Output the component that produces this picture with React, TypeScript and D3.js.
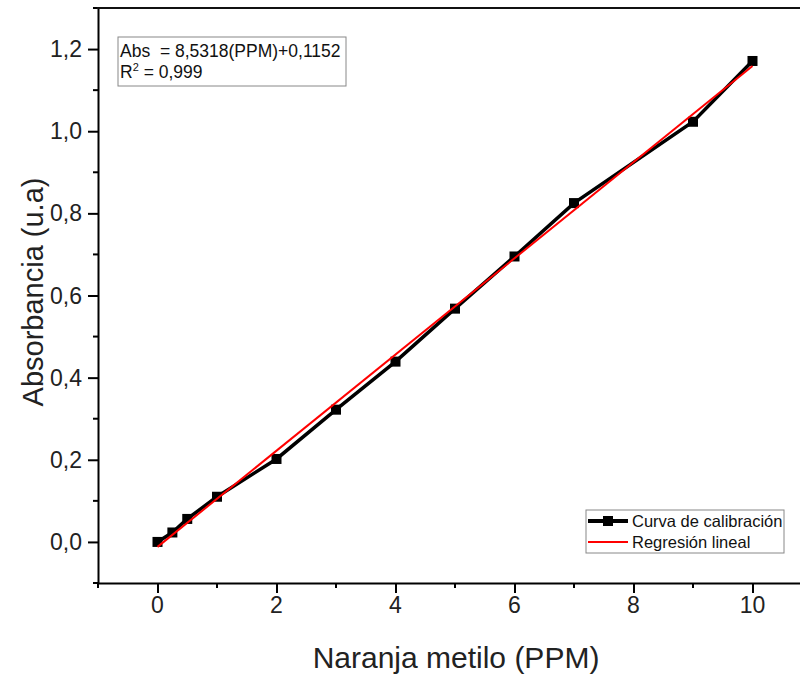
import * as d3 from "d3";
import { useEffect, useRef } from "react";

// calibration data
const ppm = [0, 0.25, 0.5, 1, 2, 3, 4, 5, 6, 7, 9, 10];
const absorb = [0, 0.023, 0.056, 0.11, 0.202, 0.322, 0.439, 0.568, 0.695, 0.825, 1.023, 1.171];
// linear fit endpoints
const fitX = [0, 10];
const fitY = [-0.012, 1.159];

const xTicks = [0, 2, 4, 6, 8, 10];
const xMinor = [-1, 1, 3, 5, 7, 9, 11];
const yTicks = [0, 0.2, 0.4, 0.6, 0.8, 1.0, 1.2];
const yMinor = [-0.1, 0.1, 0.3, 0.5, 0.7, 0.9, 1.1, 1.3];

const FONT = "Arial, 'Liberation Sans', sans-serif";
const fmt = (v: number) => v.toFixed(1).replace(".", ",");

export default function App() {
  const ref = useRef<SVGSVGElement>(null);

  useEffect(() => {
    const svg = d3.select(ref.current);
    svg.selectAll("*").remove();

    const x = d3.scaleLinear().domain([-1, 11]).range([98, 812]);
    const y = d3.scaleLinear().domain([-0.1, 1.3]).range([583, 8]);

    // y axis (labels drawn separately)
    const gy = svg.append("g").attr("transform", "translate(98,0)");
    gy.call(d3.axisLeft(y).tickValues(yTicks).tickSize(10).tickSizeOuter(0).tickFormat(() => ""));
    gy.append("g")
      .selectAll("line")
      .data(yMinor)
      .join("line")
      .attr("x1", -5)
      .attr("x2", 0)
      .attr("y1", (d) => y(d))
      .attr("y2", (d) => y(d))
      .attr("stroke", "#000")
      .attr("stroke-width", 2);
    svg.append("g")
      .selectAll("text")
      .data(yTicks)
      .join("text")
      .attr("x", 82)
      .attr("y", (d) => y(d) + 8)
      .attr("text-anchor", "end")
      .style("font-family", FONT)
      .style("font-size", "23px")
      .attr("fill", "#222")
      .text((d) => fmt(d));

    // x axis
    const gx = svg.append("g").attr("transform", "translate(0,583)");
    gx.call(d3.axisBottom(x).tickValues(xTicks).tickSize(10).tickSizeOuter(0).tickFormat(() => ""));
    gx.append("g")
      .selectAll("line")
      .data(xMinor)
      .join("line")
      .attr("x1", (d) => x(d))
      .attr("x2", (d) => x(d))
      .attr("y1", 0)
      .attr("y2", 5)
      .attr("stroke", "#000")
      .attr("stroke-width", 2);
    svg.append("g")
      .selectAll("text")
      .data(xTicks)
      .join("text")
      .attr("x", (d) => x(d))
      .attr("y", 613)
      .attr("text-anchor", "middle")
      .style("font-family", FONT)
      .style("font-size", "23px")
      .attr("fill", "#222")
      .text((d) => String(d));

    svg.selectAll(".domain").attr("stroke-width", 2);
    svg.selectAll(".tick line").attr("stroke-width", 2);

    // top frame line
    svg.append("line")
      .attr("x1", 97)
      .attr("x2", 812)
      .attr("y1", 8)
      .attr("y2", 8)
      .attr("stroke", "#111")
      .attr("stroke-width", 2);

    // data line
    const line = d3
      .line<number>()
      .x((d, i) => x(ppm[i]))
      .y((d) => y(d));
    svg.append("path")
      .datum(absorb)
      .attr("d", line)
      .attr("fill", "none")
      .attr("stroke", "#000")
      .attr("stroke-width", 3.5);
    svg.append("g")
      .selectAll("rect")
      .data(absorb)
      .join("rect")
      .attr("x", (d, i) => x(ppm[i]) - 5)
      .attr("y", (d) => y(d) - 5)
      .attr("width", 10)
      .attr("height", 10)
      .attr("fill", "#000");

    // regression line
    const fit = d3
      .line<number>()
      .x((d, i) => x(fitX[i]))
      .y((d) => y(d));
    svg.append("path")
      .datum(fitY)
      .attr("d", fit)
      .attr("fill", "none")
      .attr("stroke", "#ff0000")
      .attr("stroke-width", 2);

    // equation box
    const eq = svg.append("g");
    eq.append("rect")
      .attr("x", 118)
      .attr("y", 37)
      .attr("width", 228)
      .attr("height", 49)
      .attr("fill", "#fff")
      .attr("stroke", "#888")
      .attr("stroke-width", 1);
    eq.append("text")
      .attr("x", 120)
      .attr("y", 57)
      .attr("font-family", FONT)
      .attr("font-size", 17.5)
      .attr("fill", "#111")
      .attr("xml:space", "preserve")
      .text("Abs  = 8,5318(PPM)+0,1152");
    const r2 = eq.append("text")
      .attr("x", 120)
      .attr("y", 78)
      .attr("font-family", FONT)
      .attr("font-size", 17.5)
      .attr("fill", "#111");
    r2.append("tspan").text("R");
    r2.append("tspan").attr("font-size", 11).attr("dy", -7).text("2");
    r2.append("tspan").attr("dy", 7).text(" = 0,999");

    // legend
    const lg = svg.append("g");
    lg.append("rect")
      .attr("x", 586)
      .attr("y", 510)
      .attr("width", 198)
      .attr("height", 43)
      .attr("fill", "#fff")
      .attr("stroke", "#888")
      .attr("stroke-width", 1);
    lg.append("line")
      .attr("x1", 588)
      .attr("x2", 628)
      .attr("y1", 521)
      .attr("y2", 521)
      .attr("stroke", "#000")
      .attr("stroke-width", 4);
    lg.append("rect")
      .attr("x", 603)
      .attr("y", 516)
      .attr("width", 10)
      .attr("height", 10)
      .attr("fill", "#000");
    lg.append("line")
      .attr("x1", 588)
      .attr("x2", 628)
      .attr("y1", 542)
      .attr("y2", 542)
      .attr("stroke", "#ff0000")
      .attr("stroke-width", 2);
    lg.append("text")
      .attr("x", 632)
      .attr("y", 527)
      .attr("font-family", FONT)
      .attr("font-size", 16.5)
      .attr("fill", "#111")
      .text("Curva de calibración");
    lg.append("text")
      .attr("x", 632)
      .attr("y", 548)
      .attr("font-family", FONT)
      .attr("font-size", 16.5)
      .attr("fill", "#111")
      .text("Regresión lineal");

    // axis titles
    svg.append("text")
      .attr("x", 456)
      .attr("y", 668)
      .attr("text-anchor", "middle")
      .attr("font-family", FONT)
      .attr("font-size", 30)
      .attr("fill", "#222")
      .text("Naranja metilo (PPM)");
    svg.append("text")
      .attr("transform", "translate(43,292) rotate(-90)")
      .attr("text-anchor", "middle")
      .attr("font-family", FONT)
      .attr("font-size", 29)
      .attr("fill", "#222")
      .text("Absorbancia (u.a)");
  }, []);

  return (
    <svg
      ref={ref}
      width={800}
      height={675}
      style={{ position: "absolute", left: 0, top: 0, background: "#fff", overflow: "hidden" }}
    />
  );
}
